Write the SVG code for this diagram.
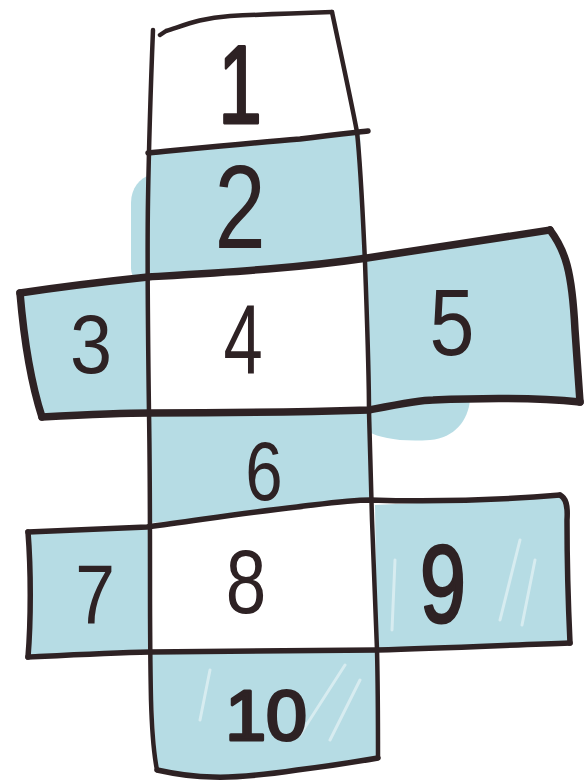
<svg xmlns="http://www.w3.org/2000/svg" width="587" height="783" viewBox="0 0 587 783">
  <style>
    .fill { fill: #b6dce4; stroke: none; }
    .streak { fill: none; stroke: #ffffff; stroke-opacity: 0.45; stroke-linecap: round; }
    .ln { fill: none; stroke: #2e2224; stroke-linecap: round; stroke-linejoin: round; }
    .thin { stroke-width: 4.5; }
    .mid { stroke-width: 5.5; }
    .thick { stroke-width: 7.5; }
    .num { font-family: "Liberation Sans", Arial, sans-serif; fill: #2e2224; text-anchor: middle; }
    .bold { stroke: #2e2224; stroke-width: 3; stroke-linejoin: round; }
  </style>
  <rect width="587" height="783" fill="#ffffff"/>

  <g id="cell-1">
    <text class="num bold" transform="translate(240,123) scale(0.7,1)" font-size="112">1</text>
  </g>

  <g id="cell-2">
    <path class="fill" d="M148,153 C200,148 300,139 360,134 L365,262 C300,268 230,272 148,277 Z"/>
    <path class="fill" d="M150,175 C140,178 131,188 131,203 L131,268 C131,278 138,284 150,284 Z"/>
    <text class="num" transform="translate(240,248) scale(0.78,1)" font-size="118">2</text>
  </g>

  <g id="cell-3">
    <path class="fill" d="M20,293 C60,287 110,281 148,277 L149,413 L42,417 C32,380 24,340 20,293 Z"/>
    <text class="num" transform="translate(91,373) scale(0.9,1)" font-size="84">3</text>
  </g>

  <g id="cell-4">
    <text class="num" transform="translate(243,373) scale(0.72,1)" font-size="98">4</text>
  </g>

  <g id="cell-5">
    <path class="fill" d="M367,258 C450,245 500,238 550,230 C565,250 572,270 575,330 L580,402 C560,398 480,398 433,400 L369,410 Z"/>
    <path class="fill" d="M369,405 L470,400 C468,420 455,438 430,440 C400,442 380,438 369,432 Z"/>
    <text class="num" transform="translate(452,355) scale(0.85,1)" font-size="95">5</text>
  </g>

  <g id="cell-6">
    <path class="fill" d="M150,413 L369,412 L370,500 C330,503 297,507 297,507 C250,512 200,520 150,523 Z"/>
    <text class="num" transform="translate(264,500) scale(0.8,1)" font-size="84">6</text>
  </g>

  <g id="cell-7">
    <path class="fill" d="M28,532 L148,527 L150,652 L28,657 C31,620 31,570 28,532 Z"/>
    <text class="num" transform="translate(95,623) scale(0.85,1)" font-size="84">7</text>
  </g>

  <g id="cell-8">
    <text class="num" transform="translate(246,613) scale(0.8,1)" font-size="91">8</text>
  </g>

  <g id="cell-9">
    <path class="fill" d="M375,505 C430,502 500,500 560,495 L567,500 C567,540 568,600 570,643 L377,650 Z"/>
    <path class="streak" stroke-width="3" d="M520,540 L500,620 M535,560 L522,625 M395,560 L392,630"/>
    <text class="num bold" transform="translate(443,622) scale(0.75,1)" font-size="110">9</text>
  </g>

  <g id="cell-10">
    <path class="fill" d="M150,652 L377,650 L378,758 C350,762 320,768 297,770 C270,774 240,778 213,777 C190,776 170,773 157,770 Z"/>
    <path class="streak" stroke-width="3" d="M345,665 L300,735 M360,680 L330,740 M210,670 L200,720"/>
    <text class="num bold" transform="translate(266,740) scale(1.05,1)" font-size="70">10</text>
  </g>

  <g id="lines">
    <path class="ln thin" d="M153,30 C151,80 149,140 148,200 C147,260 148,340 149,413 C150,470 150,523 150,580 C150,620 150,652 151,700 C152,735 154,755 157,770"/>
    <path class="ln thin" d="M332,12 C340,50 350,95 357,132 C361,170 363,220 365,262 C367,320 369,370 369,412 C370,450 371,480 372,520 C374,580 376,620 377,650 C378,690 378,730 378,758"/>
    <path class="ln thin" d="M160,35 L166,31 C185,25 200,18 230,16 C270,14 300,13 332,12"/>
    <path class="ln mid" d="M148,153 C200,148 250,143 300,139 C330,135 350,133 368,131"/>
    <path class="ln thick" d="M20,293 C60,287 110,281 148,277 C230,272 300,268 367,258 C450,245 500,238 550,230"/>
    <path class="ln thick" d="M20,293 C24,340 30,380 42,417"/>
    <path class="ln thick" d="M550,230 C565,250 572,270 575,330 C577,360 579,385 580,402"/>
    <path class="ln thick" d="M42,417 C80,415 120,413 150,413 C230,413 300,412 369,410 C400,404 420,400 433,400 C480,398 530,397 580,402"/>
    <path class="ln mid" d="M28,532 L147,527 C200,520 250,512 297,507 C330,503 350,500 370,500 C430,502 500,500 560,495"/>
    <path class="ln mid" d="M28,532 C31,570 31,620 28,657"/>
    <path class="ln mid" d="M560,495 C566,498 568,505 567,520 C567,560 568,600 570,643"/>
    <path class="ln mid" d="M28,657 C70,655 110,653 150,652 C230,651 300,651 377,650 C450,648 510,645 570,643"/>
    <path class="ln mid" d="M157,770 C175,774 195,777 213,777 C240,778 270,774 297,770 C330,766 355,762 378,758"/>
  </g>
</svg>
